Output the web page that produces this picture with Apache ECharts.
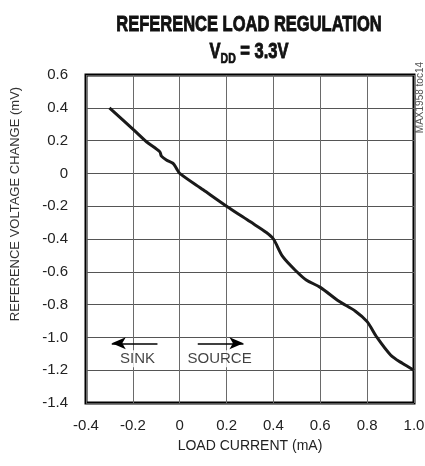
<!DOCTYPE html>
<html><head><meta charset="utf-8">
<script src="https://cdn.jsdelivr.net/npm/echarts@6/dist/echarts.min.js"></script>
<style>html,body{margin:0;padding:0;background:#fff}#c{width:425px;height:466px}</style>
</head><body><div id="c"></div>
<script>
// Curve data (load current mA, reference voltage change mV)
const loadCurrent = [-0.3, -0.2, -0.142, -0.085, -0.078, -0.057, -0.029, -0.014, 0, 0.1, 0.2, 0.3, 0.37, 0.4, 0.44, 0.5, 0.54, 0.6, 0.68, 0.75, 0.8, 0.84, 0.9, 0.95, 1.0];
const voltageChange = [0.4, 0.27, 0.193, 0.132, 0.105, 0.082, 0.062, 0.031, 0, -0.1, -0.2, -0.294, -0.36, -0.4, -0.508, -0.6, -0.65, -0.695, -0.78, -0.84, -0.904, -0.996, -1.107, -1.158, -1.2];
// Tick labels
const xTicks = ['-0.4','-0.2','0','0.2','0.4','0.6','0.8','1.0'];
const yTicks = ['-1.4','-1.2','-1.0','-0.8','-0.6','-0.4','-0.2','0','0.2','0.4','0.6'];
// Annotations
const sinkArrow = [[-0.095, -1.036], [-0.29, -1.036]];
const sourceArrow = [[0.077, -1.036], [0.272, -1.036]];
const annoLabels = [['SINK', -0.18, -1.13], ['SOURCE', 0.17, -1.13]];

const FONT = '"Liberation Sans Narrow", "Liberation Sans", Arial, sans-serif';
const chart = echarts.init(document.getElementById('c'), null, {renderer: 'canvas'});
const pts = loadCurrent.map((x, i) => [x, voltageChange[i]]);
chart.setOption({
  animation: false,
  backgroundColor: '#fff',
  grid: {left: 86, right: 11, top: 75, bottom: 63, show: true, borderColor: '#000', borderWidth: 3,
         outerBoundsMode: 'none', containLabel: false},
  xAxis: {
    type: 'value', min: -0.4, max: 1.0, interval: 0.2,
    name: 'LOAD CURRENT (mA)', nameLocation: 'middle', nameGap: 36,
    nameTextStyle: {fontFamily: FONT, fontSize: 14, color: '#222'},
    axisLine: {show: false}, axisTick: {show: false},
    axisLabel: {margin: 15, fontFamily: FONT, fontSize: 15, color: '#222',
      formatter: v => xTicks[Math.round((v + 0.4) / 0.2)]},
    splitLine: {show: true, lineStyle: {color: '#6a6a6a', width: 1}}
  },
  yAxis: {
    type: 'value', min: -1.4, max: 0.6, interval: 0.2,
    name: 'REFERENCE VOLTAGE CHANGE (mV)', nameLocation: 'middle', nameGap: 64, nameRotate: 90,
    nameTextStyle: {fontFamily: FONT, fontSize: 13, color: '#333', padding: [0, 0, 0, 70]},
    axisLine: {show: false}, axisTick: {show: false},
    axisLabel: {margin: 18, fontFamily: FONT, fontSize: 15, color: '#222',
      formatter: v => yTicks[Math.round((v + 1.4) / 0.2)]},
    splitLine: {show: true, lineStyle: {color: '#555', width: 1}}
  },
  series: [
    {
      type: 'line', data: pts, smooth: 0.3, showSymbol: false, symbol: 'none',
      lineStyle: {color: '#1a1a1a', width: 3}, z: 5,
      markLine: {
        silent: true, symbol: ['none', 'arrow'], symbolSize: [9, 14],
        lineStyle: {color: '#000', width: 1.5, type: 'solid'}, label: {show: false},
        data: [
          [{coord: sinkArrow[0]}, {coord: sinkArrow[1]}],
          [{coord: sourceArrow[0]}, {coord: sourceArrow[1]}]
        ]
      }
    },
    {
      type: 'scatter', symbolSize: 0, silent: true,
      data: annoLabels.map(a => ({value: [a[1], a[2]], name: a[0]})),
      label: {show: true, position: 'inside', formatter: p => p.name,
        fontFamily: FONT, fontSize: 15, color: '#111', backgroundColor: '#fff', padding: [1, 2]}
    }
  ],
  graphic: [
    {
      type: 'group', x: 249, y: 0, scaleX: 0.75, children: [
        {type: 'text', x: 0, y: 14, style: {text: 'REFERENCE LOAD REGULATION', textAlign: 'center',
          fontFamily: FONT, fontWeight: 'bold', fontSize: 22, fill: '#111', stroke: '#111', lineWidth: 0.9}},
        {type: 'text', x: 0, y: 39, style: {text: '{v|V}{s|DD}{v| = 3.3V}', textAlign: 'center',
          stroke: '#111', lineWidth: 0.9,
          rich: {
            v: {fontFamily: FONT, fontWeight: 'bold', fontSize: 22, fill: '#111', stroke: '#111', lineWidth: 0.9, lineHeight: 24, verticalAlign: 'bottom'},
            s: {fontFamily: FONT, fontWeight: 'bold', fontSize: 14, fill: '#111', stroke: '#111', lineWidth: 0.7, lineHeight: 24, verticalAlign: 'bottom', padding: [0, 0, -3, 0]}
          }}}
      ]
    },
    {
      type: 'text', left: 415, top: 62, rotation: Math.PI / 2,
      style: {text: 'MAX1958 toc14', fontFamily: FONT, fontSize: 10, fill: '#555'}
    }
  ]
});
</script></body></html>
